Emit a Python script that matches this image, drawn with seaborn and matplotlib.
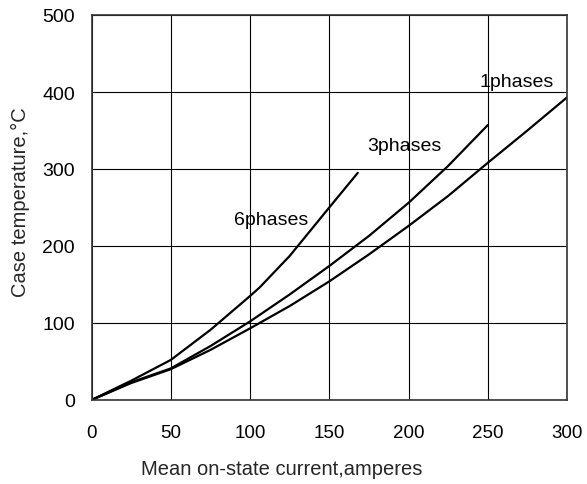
import pandas as pd
import seaborn as sns
import matplotlib.pyplot as plt

# Valores
x_1ph = [0, 25, 50, 75, 100, 125, 150, 175, 200, 225, 250, 275, 300]
y_1ph = [0, 22, 40, 65, 93, 122, 154, 189, 226, 265, 308, 350, 393]
x_3ph = [0, 25, 50, 75, 100, 125, 150, 175, 200, 225, 250]
y_3ph = [0, 23, 41, 70, 102, 137, 174, 213, 256, 304, 357]
x_6ph = [0, 25, 50, 75, 100, 106, 125, 150, 168]
y_6ph = [0, 25, 52, 91, 135, 146, 187, 250, 295]

labels = ["1phases", "3phases", "6phases"]
label_pos = [(245, 413), (174, 330), (90, 235)]

frames = []
for nome, xs, ys in zip(labels, [x_1ph, x_3ph, x_6ph], [y_1ph, y_3ph, y_6ph]):
    frames.append(pd.DataFrame({"corrente": xs, "temperatura": ys, "curva": nome}))
df = pd.concat(frames, ignore_index=True)

sns.set_style("white")
plt.rcParams['font.family'] = ['Liberation Sans', 'DejaVu Sans']

fig = plt.figure(figsize=(5.87, 4.85), dpi=100)
ax = fig.add_axes([91.5 / 587, 1 - 401 / 485, 475.5 / 587, 385 / 485])

sns.lineplot(data=df, x="corrente", y="temperatura", units="curva", estimator=None,
             color="black", linewidth=1.6, sort=False, ax=ax)

for nome, (lx, ly) in zip(labels, label_pos):
    ax.text(lx, ly, nome, fontsize=14, va="center", ha="left", color="black")

ax.set_xlim(0, 300)
ax.set_ylim(0, 500)
ax.set_xticks(range(0, 301, 50))
ax.set_yticks(range(0, 501, 100))
ax.grid(True, color="black", linewidth=0.8)
for s in ax.spines.values():
    s.set_color("#333333")
    s.set_linewidth(1.2)
ax.tick_params(axis="x", labelsize=13.5, length=0, pad=17, colors="black")
ax.tick_params(axis="y", labelsize=14, length=0, pad=12, colors="black")
ax.set_xlabel("Mean on-state current,amperes", fontsize=14.5, labelpad=13)
ax.set_ylabel("Case temperature,°C", fontsize=14.5, labelpad=9)
# no original os títulos dos eixos não ficam centrados
ax.xaxis.label.set_x(0.399)
ax.yaxis.label.set_y(0.517)

plt.savefig("out.png", dpi=100)
